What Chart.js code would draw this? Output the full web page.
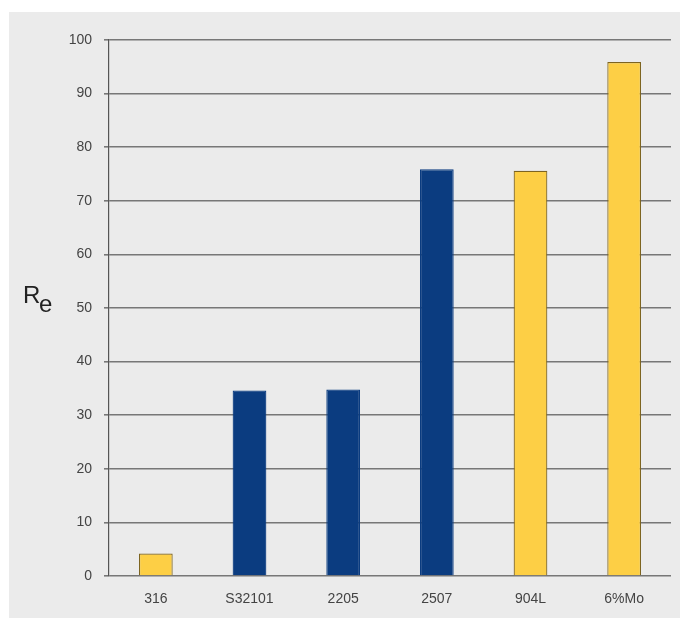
<!DOCTYPE html>
<html>
<head>
<meta charset="utf-8">
<script src="https://cdn.jsdelivr.net/npm/chart.js@4"></script>
<style>
  body { margin: 0; background: #fff; }
  #panel { position: absolute; left: 9px; top: 12px; width: 671px; height: 606px; background: #ebebeb; }
</style>
</head>
<body>
<div id="panel"><canvas id="myBarChart"></canvas></div>
<script>
var grades = ['316', 'S32101', '2205', '2507', '904L', '6%Mo'];
var reValues = [4.2, 34.6, 34.8, 75.9, 75.6, 95.9];
var gradeTypes = ['austenitic', 'duplex', 'duplex', 'duplex', 'austenitic', 'austenitic'];
var yTicks = [0, 10, 20, 30, 40, 50, 60, 70, 80, 90, 100];

var fillFor = { austenitic: '#fdcf45', duplex: '#0b3c80' };
var edgeFor = { austenitic: '#7d6420', duplex: '#0b3c80' };

// y axis title "R" with lowered "e"
var reTitle = {
  id: 'reTitle',
  afterDraw: function (chart) {
    var c = chart.ctx;
    c.save();
    c.fillStyle = '#222';
    c.font = '24px "Liberation Sans", Arial, sans-serif';
    c.textBaseline = 'alphabetic';
    c.fillText('R', 14, 291);
    c.fillText('e', 30, 300);
    c.restore();
  }
};

var data = {
  labels: grades,
  datasets: [{
    label: 'Re',
    data: reValues,
    backgroundColor: gradeTypes.map(function (t) { return fillFor[t]; }),
    borderColor: gradeTypes.map(function (t) { return edgeFor[t]; }),
    borderWidth: 1.2,
    barPercentage: 0.36,
    categoryPercentage: 1
  }]
};

var options = {
  responsive: true,
  maintainAspectRatio: false,
  animation: false,
  layout: { padding: { top: 28, right: 9, left: 0, bottom: 0 } },
  scales: {
    x: {
      grid: { display: false },
      border: { display: false },
      ticks: {
        color: '#444',
        padding: 7,
        font: { family: '"Liberation Sans", Arial, sans-serif', size: 14 }
      },
      afterFit: function (s) { s.height = 42; }
    },
    y: {
      min: 0,
      max: 100,
      afterBuildTicks: function (s) { s.ticks = yTicks.map(function (v) { return { value: v }; }); },
      grid: { color: '#777', lineWidth: 1.6, tickLength: 5 },
      border: { color: '#555', width: 1.2 },
      ticks: {
        color: '#444',
        padding: 12,
        font: { family: '"Liberation Sans", Arial, sans-serif', size: 14 }
      },
      afterFit: function (s) { s.width = 100; }
    }
  },
  plugins: {
    legend: { display: false },
    tooltip: { enabled: false }
  }
};

var ctx = document.getElementById('myBarChart').getContext('2d');
var myBarChart = new Chart(ctx, {
  type: 'bar',
  data: data,
  options: options,
  plugins: [reTitle]
});
</script>
</body>
</html>
